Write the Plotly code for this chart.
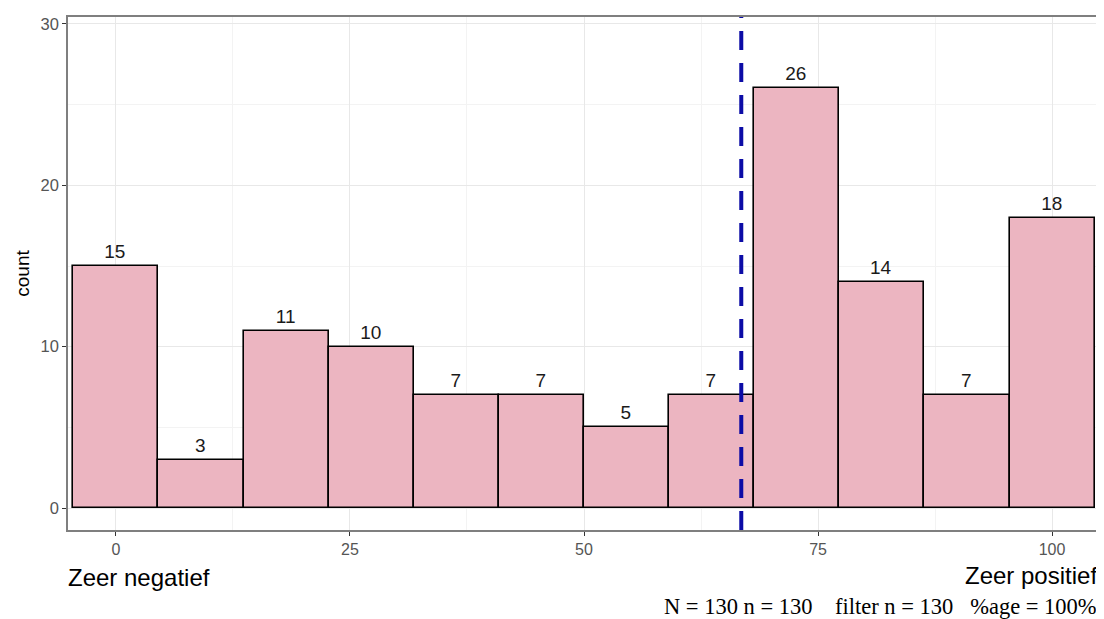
import plotly.graph_objects as go

counts = [15, 3, 11, 10, 7, 7, 5, 7, 26, 14, 7, 18]
n_bins = len(counts)
bin_width = 100 / (n_bins - 1)
centers = [i * bin_width for i in range(n_bins)]
ref_line = 66.8
x_ticks = [0, 25, 50, 75, 100]
y_ticks = [0, 10, 20, 30]
footnote = "N = 130 n = 130&nbsp;&nbsp;&nbsp; filter n = 130&nbsp;&nbsp; %age = 100%"

W, H = 1096, 611
L, R, T, B = 60, 2, 9, 89
pw, ph = W - L - R, H - T - B


def px_x(xp):  # page x -> paper
    return (xp - 8 - L) / pw


def px_y(yp):  # page y -> paper
    return (H - B - (yp - 8)) / ph


fig = go.Figure()
fig.add_trace(go.Bar(
    x=centers, y=counts, width=bin_width,
    marker=dict(color="rgb(236,181,193)", line=dict(color="black", width=1.6)),
    text=[str(c) for c in counts], textposition="outside",
    textfont=dict(family="Liberation Sans, Arial", size=19, color="#1a1a1a"),
    cliponaxis=False, showlegend=False,
))
fig.add_shape(type="line", x0=ref_line, x1=ref_line, y0=0, y1=1, yref="paper", xref="x",
              line=dict(color="#0c0ca6", width=4, dash="19px,13px"), layer="above")

grid = "#e8e8e8"
fig.update_layout(
    width=W, height=H,
    margin=dict(l=L, r=R, t=T, b=B),
    plot_bgcolor="white", paper_bgcolor="white",
    bargap=0,
    font=dict(family="Liberation Sans, Arial", color="#4d4d4d"),
    xaxis=dict(range=[-5.12, 105.12], tickvals=x_ticks, ticks="outside", ticklen=4,
               tickcolor="#333333", tickfont=dict(size=16, color="#555555"),
               showgrid=True, gridcolor=grid, gridwidth=1.2,
               minor=dict(tickvals=[12.5, 37.5, 62.5, 87.5], showgrid=True, gridcolor="#f3f3f3", gridwidth=0.8),
               showline=True, linecolor="#7f7f7f", linewidth=1.5, mirror=True, zeroline=False),
    yaxis=dict(range=[-1.36, 30.43], tickvals=y_ticks, ticks="outside", ticklen=4,
               tickcolor="#333333", tickfont=dict(size=16.5, color="#555555"),
               showgrid=True, gridcolor=grid, gridwidth=1.2,
               minor=dict(tickvals=[5, 15, 25], showgrid=True, gridcolor="#f3f3f3", gridwidth=0.8),
               showline=True, linecolor="#7f7f7f", linewidth=1.5, mirror=True, zeroline=False,
               title=dict(text="count", font=dict(size=19, color="black"), standoff=6)),
)
fig.add_annotation(xref="paper", yref="paper", x=px_x(66), xanchor="left", y=px_y(577),
                   yanchor="middle", text="Zeer negatief", showarrow=False,
                   font=dict(size=24, color="black", family="Liberation Sans, Arial"))
fig.add_annotation(xref="paper", yref="paper", x=px_x(1101), xanchor="right", y=px_y(575),
                   yanchor="middle", text="Zeer positief", showarrow=False,
                   font=dict(size=24, color="black", family="Liberation Sans, Arial"))
fig.add_annotation(xref="paper", yref="paper", x=px_x(1101), xanchor="right", y=px_y(606),
                   yanchor="middle", text=footnote, showarrow=False,
                   font=dict(size=22.5, color="black", family="Liberation Serif, Times New Roman"))

fig.write_html("out.html")
